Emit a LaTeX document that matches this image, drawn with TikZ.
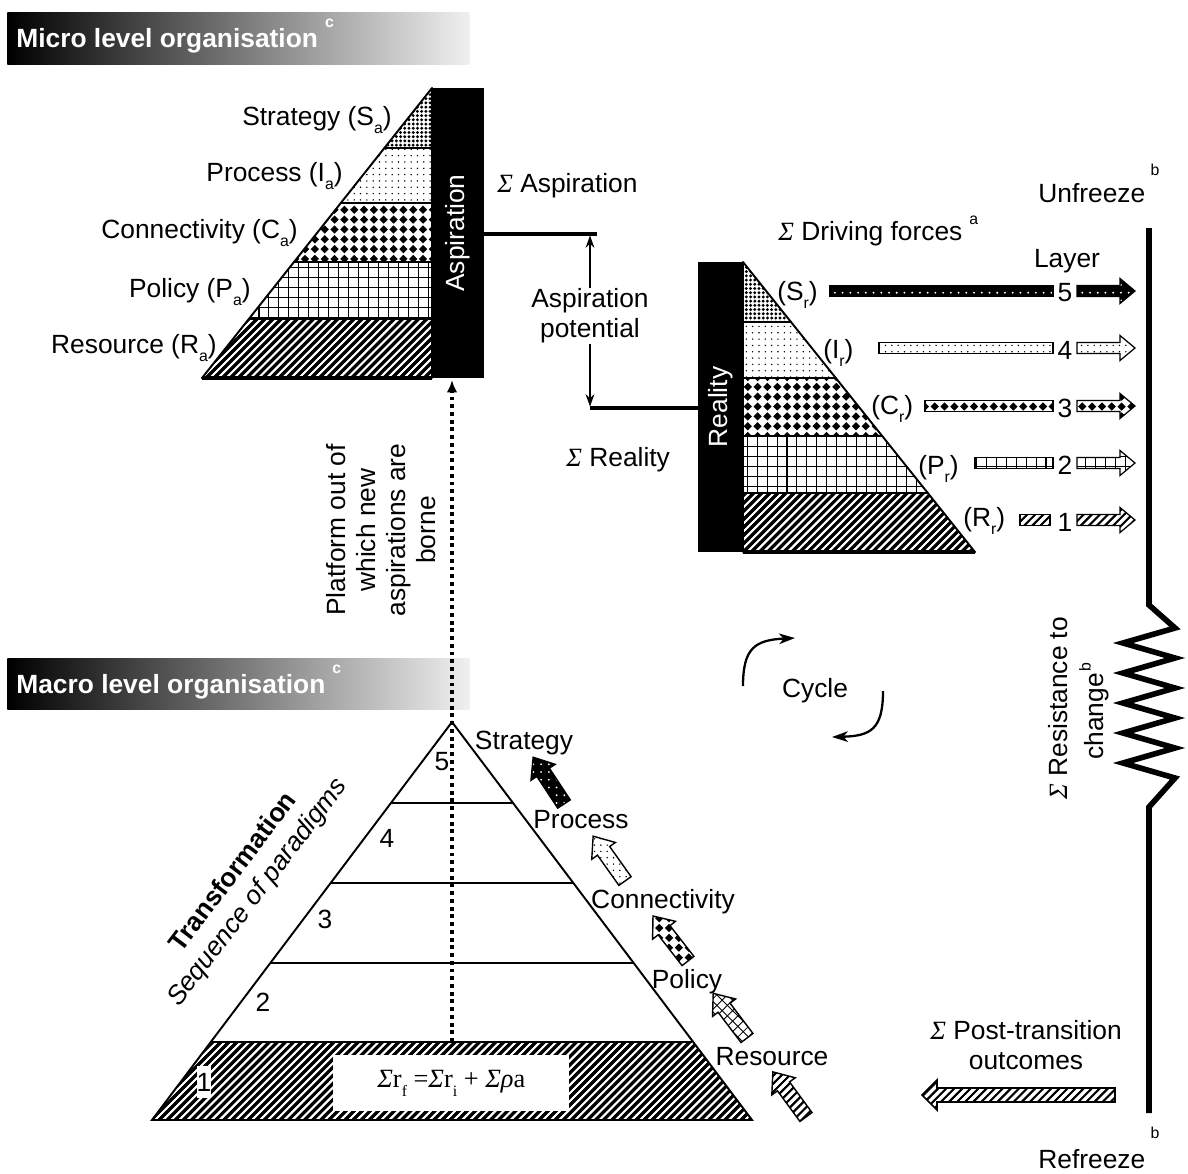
\documentclass[tikz,border=0pt]{standalone}
\usepackage{fontspec}
\setmainfont{Liberation Sans}
\newfontfamily\sgf{Liberation Serif}
\usetikzlibrary{patterns,arrows.meta}

\pgfdeclarepatternformonly{densedots}{\pgfqpoint{-1.1pt}{-1.1pt}}{\pgfqpoint{1.1pt}{1.1pt}}{\pgfqpoint{2.4pt}{2.4pt}}{\pgfpathcircle{\pgfpointorigin}{0.92pt}\pgfusepath{fill}}
\pgfdeclarepatternformonly{sparsedots}{\pgfqpoint{-0.6pt}{-0.6pt}}{\pgfqpoint{0.6pt}{0.6pt}}{\pgfqpoint{3.6pt}{3.6pt}}{\pgfpathcircle{\pgfpointorigin}{0.45pt}\pgfusepath{fill}}
\pgfdeclarepatternformonly{wdots}{\pgfqpoint{-0.8pt}{-0.8pt}}{\pgfqpoint{0.8pt}{0.8pt}}{\pgfqpoint{4.4pt}{4.4pt}}{\pgfpathcircle{\pgfpointorigin}{0.6pt}\pgfusepath{fill}}
\pgfdeclarepatternformonly{diamonds}{\pgfqpoint{-2.5pt}{-2.5pt}}{\pgfqpoint{2.5pt}{2.5pt}}{\pgfqpoint{5.6pt}{5.6pt}}{\pgfpathmoveto{\pgfqpoint{0pt}{2.35pt}}\pgfpathlineto{\pgfqpoint{2.35pt}{0pt}}\pgfpathlineto{\pgfqpoint{0pt}{-2.35pt}}\pgfpathlineto{\pgfqpoint{-2.35pt}{0pt}}\pgfpathclose\pgfusepath{fill}}
\pgfdeclarepatternformonly{gridp}{\pgfqpoint{-0.5pt}{-0.5pt}}{\pgfqpoint{6.2pt}{6.2pt}}{\pgfqpoint{5.67pt}{5.67pt}}{\pgfsetlinewidth{0.6pt}\pgfpathmoveto{\pgfqpoint{0pt}{0pt}}\pgfpathlineto{\pgfqpoint{0pt}{5.8pt}}\pgfpathmoveto{\pgfqpoint{0pt}{0pt}}\pgfpathlineto{\pgfqpoint{5.8pt}{0pt}}\pgfusepath{stroke}}
\pgfdeclarepatternformonly{stripes}{\pgfqpoint{-3.3pt}{-3.3pt}}{\pgfqpoint{7.9pt}{7.9pt}}{\pgfqpoint{4.6pt}{4.6pt}}{\pgfsetlinewidth{1.7pt}\pgfpathmoveto{\pgfqpoint{-2.3pt}{-2.3pt}}\pgfpathlineto{\pgfqpoint{6.9pt}{6.9pt}}\pgfusepath{stroke}}
\pgfdeclarepatternformonly{xgrid}{\pgfqpoint{-1pt}{-1pt}}{\pgfqpoint{7pt}{7pt}}{\pgfqpoint{6pt}{6pt}}{\pgfsetlinewidth{0.5pt}\pgfpathmoveto{\pgfqpoint{0pt}{0pt}}\pgfpathlineto{\pgfqpoint{6pt}{6pt}}\pgfpathmoveto{\pgfqpoint{0pt}{6pt}}\pgfpathlineto{\pgfqpoint{6pt}{0pt}}\pgfusepath{stroke}}

\newcommand\supl[2]{\raisebox{#1}{\fontsize{9}{9}\selectfont #2}}
\newcommand\subl[1]{\raisebox{-5pt}{\fontsize{9}{9}\selectfont #1}}
\newcommand\Sg{{\sgf\itshape Σ}}
\newcommand\plainbar[4]{\path[#1] (#2,#4-5.5) rectangle (#3,#4+5.5);}
\newcommand\rightblock[4]{\path[#1] (#2,#4-5.5) -- (#3-15,#4-5.5) -- (#3-15,#4-12.5) -- (#3,#4) -- (#3-15,#4+12.5) -- (#3-15,#4+5.5) -- (#2,#4+5.5) -- cycle;}
\newcommand\diagblock[5]{\begin{scope}[shift={(#2,#3)},rotate=#4]\path[#1] (0,-7.5) -- (#5-18,-7.5) -- (#5-18,-14.5) -- (#5,0) -- (#5-18,14.5) -- (#5-18,7.5) -- (0,7.5) -- cycle;\end{scope}}

\begin{document}
\begin{tikzpicture}[x=0.02cm,y=-0.02cm,
 lbl/.style={inner sep=0pt, font=\fontsize{15}{17}\selectfont},
 band/.style={draw=black, line width=1.1pt, line join=round},
 blackbar/.style={fill=black, text=white, inner sep=0pt, rotate=90, font=\fontsize{15}{17}\selectfont},
 hdr/.style={left color=black, right color=white!94!black, inner sep=0pt, minimum width=9.24cm, minimum height=1.04cm, anchor=north west},
 hdrtext/.style={text=white, inner sep=0pt, font=\fontsize{15}{17}\selectfont\bfseries, anchor=base west},
 rowbody/.style={draw=black, line width=0.7pt},
 diagbody/.style={draw=black, line width=0.8pt, line join=miter},
 conn/.style={line width=2.4pt},
 thinarrow/.style={line width=0.8pt, -{Stealth[length=7pt,width=5pt]}},
 cyclearrow/.style={line width=1.3pt, -{Stealth[length=9pt,width=6pt,inset=2.5pt]}},
]
\useasboundingbox (0,0) rectangle (1188,1174);

% headers
\node[hdr] (microhdr) at (7,12) {};
\node[hdrtext] (microtxt) at (16,47) {Micro level organisation\kern4pt\supl{11pt}{c}};
\node[hdr, minimum height=1.02cm] (macrohdr) at (7,658) {};
\node[hdrtext] (macrotxt) at (16,693) {Macro level organisation\kern4pt\supl{11pt}{c}};

% micro pyramid
\path[band, pattern=densedots] (432,88) -- (384.4,148) -- (432,148) -- cycle;
\path[band, pattern=sparsedots] (384.4,148) -- (340.8,203) -- (432,203) -- (432,148) -- cycle;
\path[band, pattern=diamonds] (340.8,203) -- (294,262) -- (432,262) -- (432,203) -- cycle;
\path[band, pattern=gridp] (294,262) -- (248.8,319) -- (432,319) -- (432,262) -- cycle;
\path[band, pattern=stripes] (248.8,319) -- (202,378) -- (432,378) -- (432,319) -- cycle;
\draw[line width=2pt] (202,378) -- (432,378);
\node[blackbar, minimum width=5.8cm, minimum height=1.04cm] (aspbar) at (458,233) {Aspiration};

\node[lbl, anchor=base east] (Sa) at (392,125) {Strategy (S\subl{a})};
\node[lbl, anchor=base east] (Ia) at (343,181) {Process (I\subl{a})};
\node[lbl, anchor=base east] (Ca) at (298,238) {Connectivity (C\subl{a})};
\node[lbl, anchor=base east] (Pa) at (251,297) {Policy (P\subl{a})};
\node[lbl, anchor=base east] (Ra) at (217,353) {Resource (R\subl{a})};

\node[lbl, anchor=base west] (sasp) at (497,192) {\Sg{} Aspiration};

% reality pyramid
\path[band, pattern=densedots] (743,262) -- (791,322) -- (743,322) -- cycle;
\path[band, pattern=sparsedots] (743,322) -- (791,322) -- (835.8,378) -- (743,378) -- cycle;
\path[band, pattern=diamonds] (743,378) -- (835.8,378) -- (882.2,436) -- (743,436) -- cycle;
\path[band, pattern=gridp] (743,436) -- (882.2,436) -- (927.8,493) -- (743,493) -- cycle;
\path[band, pattern=stripes] (743,493) -- (927.8,493) -- (975,552) -- (743,552) -- cycle;
\draw[line width=2pt] (743,552) -- (975,552);
\node[blackbar, minimum width=5.8cm, minimum height=0.9cm] (realbar) at (720.5,407) {Reality};

\node[lbl, anchor=base west] (Sr) at (777,300) {(S\subl{r})};
\node[lbl, anchor=base west] (Ir) at (823,358) {(I\subl{r})};
\node[lbl, anchor=base west] (Cr) at (871,414) {(C\subl{r})};
\node[lbl, anchor=base west] (Pr) at (918,474) {(P\subl{r})};
\node[lbl, anchor=base west] (Rr) at (963,526) {(R\subl{r})};

\node[lbl, anchor=base west] (sreal) at (566,466) {\Sg{} Reality};

% aspiration potential
\coordinate (apTop) at (590,234);
\coordinate (apBot) at (590,408);
\draw[conn] (aspbar.south |- apTop) -- (597,234);
\draw[conn] (apBot) -- (apBot -| realbar.north);
\node[lbl, align=center] (aptext) at (590,316) {Aspiration\\potential};
\draw[thinarrow] (aptext.north) -- ([yshift=-0.03cm]apTop);
\draw[thinarrow] (aptext.south) -- ([yshift=0.03cm]apBot);

% driving forces
\node[lbl, anchor=base west] (drive) at (778,240) {\Sg{} Driving forces\kern4pt\supl{9pt}{a}};
\node[lbl, anchor=base] (layer) at (1067,267) {Layer};

\plainbar{rowbody, preaction={fill=black}, pattern=wdots, pattern color=white}{830}{1053}{291}
\node[lbl] (n5) at (1065,293) {5};
\rightblock{rowbody, preaction={fill=black}, pattern=wdots, pattern color=white}{1077}{1135}{291}

\plainbar{rowbody, pattern=sparsedots}{879}{1053}{348}
\node[lbl] (n4) at (1065,350) {4};
\rightblock{rowbody, pattern=sparsedots}{1077}{1135}{348}

\plainbar{rowbody, pattern=diamonds}{925}{1053}{406}
\node[lbl] (n3) at (1065,408) {3};
\rightblock{rowbody, pattern=diamonds}{1077}{1135}{406}

\plainbar{rowbody, pattern=gridp}{975}{1053}{463}
\node[lbl] (n2) at (1065,465) {2};
\rightblock{rowbody, pattern=gridp}{1077}{1135}{463}

\plainbar{rowbody, preaction={fill=black}, pattern=stripes, pattern color=white}{1020}{1050}{520}
\node[lbl] (n1) at (1065,522) {1};
\rightblock{rowbody, preaction={fill=black}, pattern=stripes, pattern color=white}{1077}{1135}{520}

% right line with spring
\coordinate (ufTop) at (1149,228);
\coordinate (rfBot) at (1149,1113);
\draw[line width=3.2pt, line join=miter] (ufTop) -- (1149,605) -- (1175,628) -- (1123,643) -- (1175,658) -- (1123,673) -- (1175,688) -- (1123,703) -- (1175,718) -- (1123,733) -- (1175,748) -- (1123,763) -- (1175,778) -- (1149,807) -- (rfBot);
\node[lbl, anchor=base west] (unf) at (1038,202) {Unfreeze\kern3pt\supl{15pt}{b}};
\node[lbl, anchor=base west] (ref) at (1038,1168) {Refreeze\kern3pt\supl{17pt}{b}};
\node[lbl, rotate=90, anchor=base west] (res1) at (1067,800) {\Sg{} Resistance to};
\node[lbl, rotate=90, anchor=base west] (res2) at (1103,760) {change\kern1pt\supl{7pt}{b}};

% cycle
\node[lbl, anchor=base] (cyc) at (815,697) {Cycle};
\draw[cyclearrow] (743,686) .. controls (743,648) and (755,640) .. (795,638);
\draw[cyclearrow] (883,691) .. controls (883,729) and (871,736) .. (832,737);

% platform text
\node[lbl, rotate=90, align=center] (plat) at (381,530) {Platform out of\\which new\\aspirations are\\borne};

% macro pyramid
\coordinate (apex) at (452,722);
\path[pattern=stripes] (212,1042) -- (692,1042) -- (752,1120) -- (152,1120) -- cycle;
\draw[line width=1.1pt, line join=miter] (apex) -- (752,1120) -- (152,1120) -- cycle;
\draw[line width=1.1pt] (391,803) -- (513,803);
\draw[line width=1.1pt] (331,883) -- (573,883);
\draw[line width=1.1pt] (271,963) -- (633,963);
\draw[line width=1.1pt] (212,1042) -- (692,1042);
\node[fill=white, inner sep=0pt, minimum width=4.72cm, minimum height=1.12cm, anchor=north west] (fbox) at (333,1055) {};
\node[font=\fontsize{15}{17}\selectfont\sgf, inner sep=0pt] (formula) at (fbox.center) {\Sg r\subl{f} =\Sg r\subl{i} + \Sg{\itshape ρ}a};
\node[lbl, fill=white, minimum width=0.3cm, minimum height=0.64cm] (one) at (204,1082) {1};
\node[lbl] (m5) at (442,762) {5};
\node[lbl] (m4) at (387,838) {4};
\node[lbl] (m3) at (325,919) {3};
\node[lbl] (m2) at (263,1002) {2};

\node[inner sep=0pt, rotate=52.8, font=\fontsize{15}{17}\selectfont\bfseries] (trans) at (232,871) {Transformation};
\node[inner sep=0pt, rotate=52.8, font=\fontsize{15}{17}\selectfont\itshape] (seq) at (258,893) {Sequence of paradigms};

% dotted platform arrow
\coordinate (platbase) at (452,1042);
\draw[line width=1.8pt, dash pattern=on 2.2pt off 2.2pt, -{Latex[length=7pt,width=6pt]}, shorten >=1pt] (platbase) -- (platbase |- aspbar.west);

% bottom labels and arrows
\node[lbl, anchor=base] (lS) at (524,749) {Strategy};
\node[lbl, anchor=base] (lI) at (581,828) {Process};
\node[lbl, anchor=base] (lC) at (663,908) {Connectivity};
\node[lbl, anchor=base] (lP) at (687,988) {Policy};
\node[lbl, anchor=base] (lR) at (772,1065) {Resource};

\diagblock{diagbody, preaction={fill=black}, pattern=wdots, pattern color=white}{564}{804}{123.4}{56}
\diagblock{diagbody, pattern=sparsedots}{625}{881}{125.4}{55}
\diagblock{diagbody, pattern=diamonds}{688}{961}{127.9}{57}
\diagblock{diagbody, pattern=xgrid}{747}{1038}{127.1}{56}
\diagblock{diagbody, preaction={fill=black}, pattern=stripes, pattern color=white}{806}{1117}{126.3}{56}

% post-transition
\node[lbl, align=center] (post) at (1026,1045) {\Sg{} Post-transition\\outcomes};
\path[draw, line width=0.9pt, preaction={fill=black}, pattern=stripes, pattern color=white] (1115,1088) -- (937,1088) -- (937,1080) -- (922,1095) -- (937,1110) -- (937,1102) -- (1115,1102) -- cycle;

\end{tikzpicture}
\end{document}
